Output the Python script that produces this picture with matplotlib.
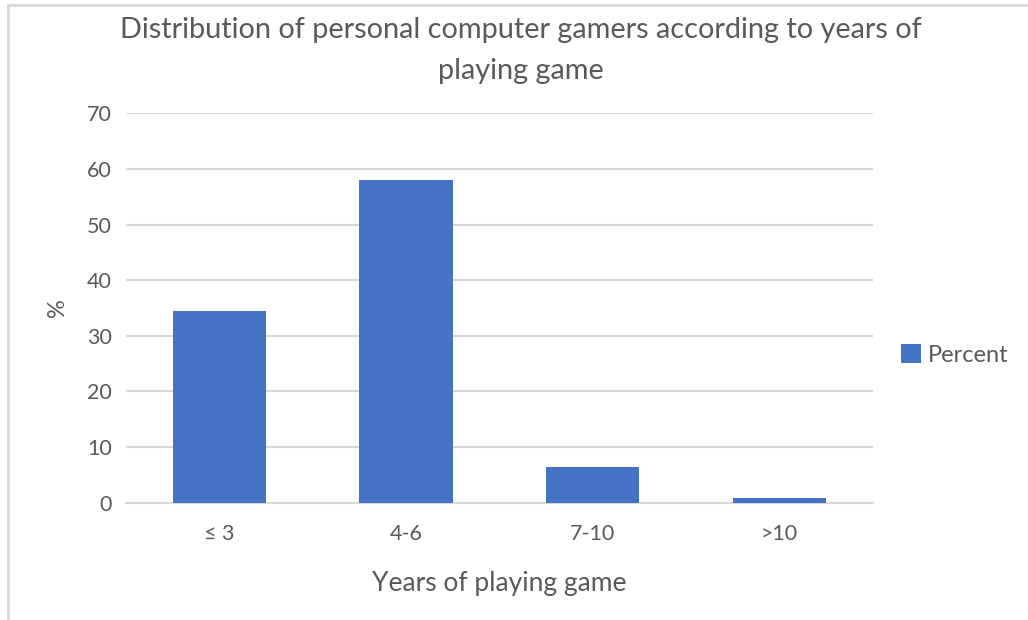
import matplotlib
matplotlib.use("Agg")
import matplotlib.pyplot as plt
from matplotlib.lines import Line2D
from matplotlib.patches import Patch

categories = ["≤ 3", "4-6", "7-10", ">10"]
percent = [34.5, 58.0, 6.4, 0.8]
yticks = [0, 10, 20, 30, 40, 50, 60, 70]

plt.rcParams["font.family"] = ["Lato", "DejaVu Sans"]
text_color = "#595959"
bar_color = "#4472C4"
grid_color = "#D9D9D9"

fig = plt.figure(figsize=(10.28, 6.2), dpi=100)
ax = fig.add_axes([0.1225, 0.1892, 0.7265, 0.6281])

x = range(len(categories))
ax.bar(x, percent, width=0.5, color=bar_color, zorder=3)

ax.set_xlim(-0.5, len(categories) - 0.5)
ax.set_ylim(0, 70)
ax.set_yticks(yticks)
ax.set_yticklabels([str(t) for t in yticks])
ax.set_xticks(list(x))
ax.set_xticklabels(categories)

ax.yaxis.grid(True, color=grid_color, linewidth=1.5, zorder=0)
for s in ["top", "right", "left"]:
    ax.spines[s].set_visible(False)
ax.spines["bottom"].set_color(grid_color)
ax.spines["bottom"].set_linewidth(1.5)
ax.tick_params(axis="both", length=0, colors=text_color, labelsize=15.5)
ax.tick_params(axis="x", pad=15)
ax.tick_params(axis="y", pad=10)

ax.set_xlabel("Years of playing game", fontsize=19, color=text_color, labelpad=20)
ax.set_ylabel("%", fontsize=17, color=text_color, labelpad=14)

fig.text(0.507, 0.972, "Distribution of personal computer gamers according to years of\nplaying game",
         ha="center", va="top", fontsize=20.8, color=text_color, linespacing=1.68)

handles = [Patch(facecolor=bar_color, edgecolor="none")]
fig.legend(handles, ["Percent"], loc="center left", bbox_to_anchor=(0.856, 0.427),
           frameon=False, fontsize=17, handlelength=0.85, handleheight=0.85,
           handletextpad=0.3, labelcolor=text_color)

# outer chart border (top and left edges)
fig.add_artist(Line2D([0.0075, 1.0], [0.9915, 0.9915], transform=fig.transFigure,
                      color=grid_color, linewidth=2))
fig.add_artist(Line2D([0.0075, 0.0075], [0.0, 0.9915], transform=fig.transFigure,
                      color=grid_color, linewidth=2))

fig.savefig("out.png", dpi=100, facecolor="white")
